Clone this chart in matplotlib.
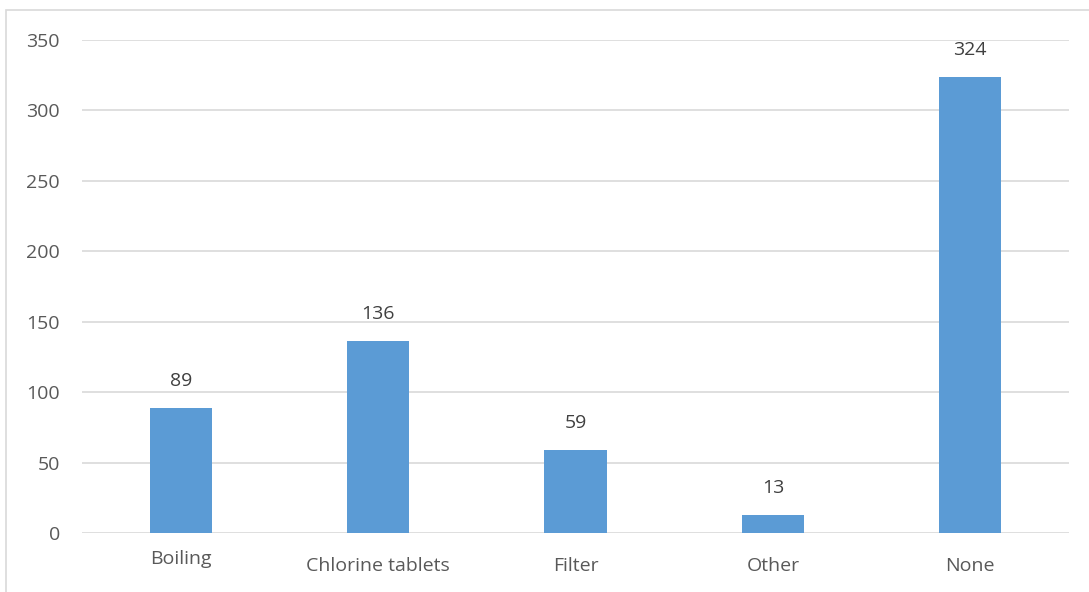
import matplotlib
matplotlib.use("Agg")
import matplotlib.pyplot as plt
from matplotlib.patches import Rectangle

categories = ["Boiling", "Chlorine tablets", "Filter", "Other", "None"]
values = [89, 136, 59, 13, 324]
yticks = [0, 50, 100, 150, 200, 250, 300, 350]

plt.rcParams['font.family'] = ['Open Sans', 'DejaVu Sans']
W, H = 1089, 592
fig = plt.figure(figsize=(W/100, H/100), dpi=100)
fig.patch.set_facecolor('white')

# outer border
fig.add_artist(Rectangle((6/W, -0.01), 1.02, (H-10)/H + 0.01, transform=fig.transFigure,
                         fill=False, edgecolor='#D9D9D9', linewidth=1.2))

ax = fig.add_axes([82/W, 59/H, 987/W, 493/H])
x = list(range(len(categories)))
bars = ax.bar(x, values, width=0.315, color='#5B9BD5', zorder=3)
ax.set_xlim(-0.5, len(categories) - 0.5)
ax.set_ylim(0, 350)
ax.set_yticks(yticks)
ax.set_xticks(x)
ax.set_xticklabels(categories)
ax.grid(axis='y', color='#D9D9D9', linewidth=1.2, zorder=0)
for s in ax.spines.values():
    s.set_visible(False)
ax.tick_params(axis='both', length=0, colors='#595959', labelsize=14)
ax.tick_params(axis='y', pad=16)
ax.tick_params(axis='x', pad=17)
ax.xaxis.get_major_ticks()[0].set_pad(12)
for lbl in ax.get_yticklabels():
    lbl.set_horizontalalignment('right')

for xi, v in zip(x, values):
    ax.annotate(str(v), (xi, v), xytext=(0, 13), textcoords='offset points',
                ha='center', va='bottom', fontsize=14, color='#404040')

fig.savefig('out.png', dpi=100)
